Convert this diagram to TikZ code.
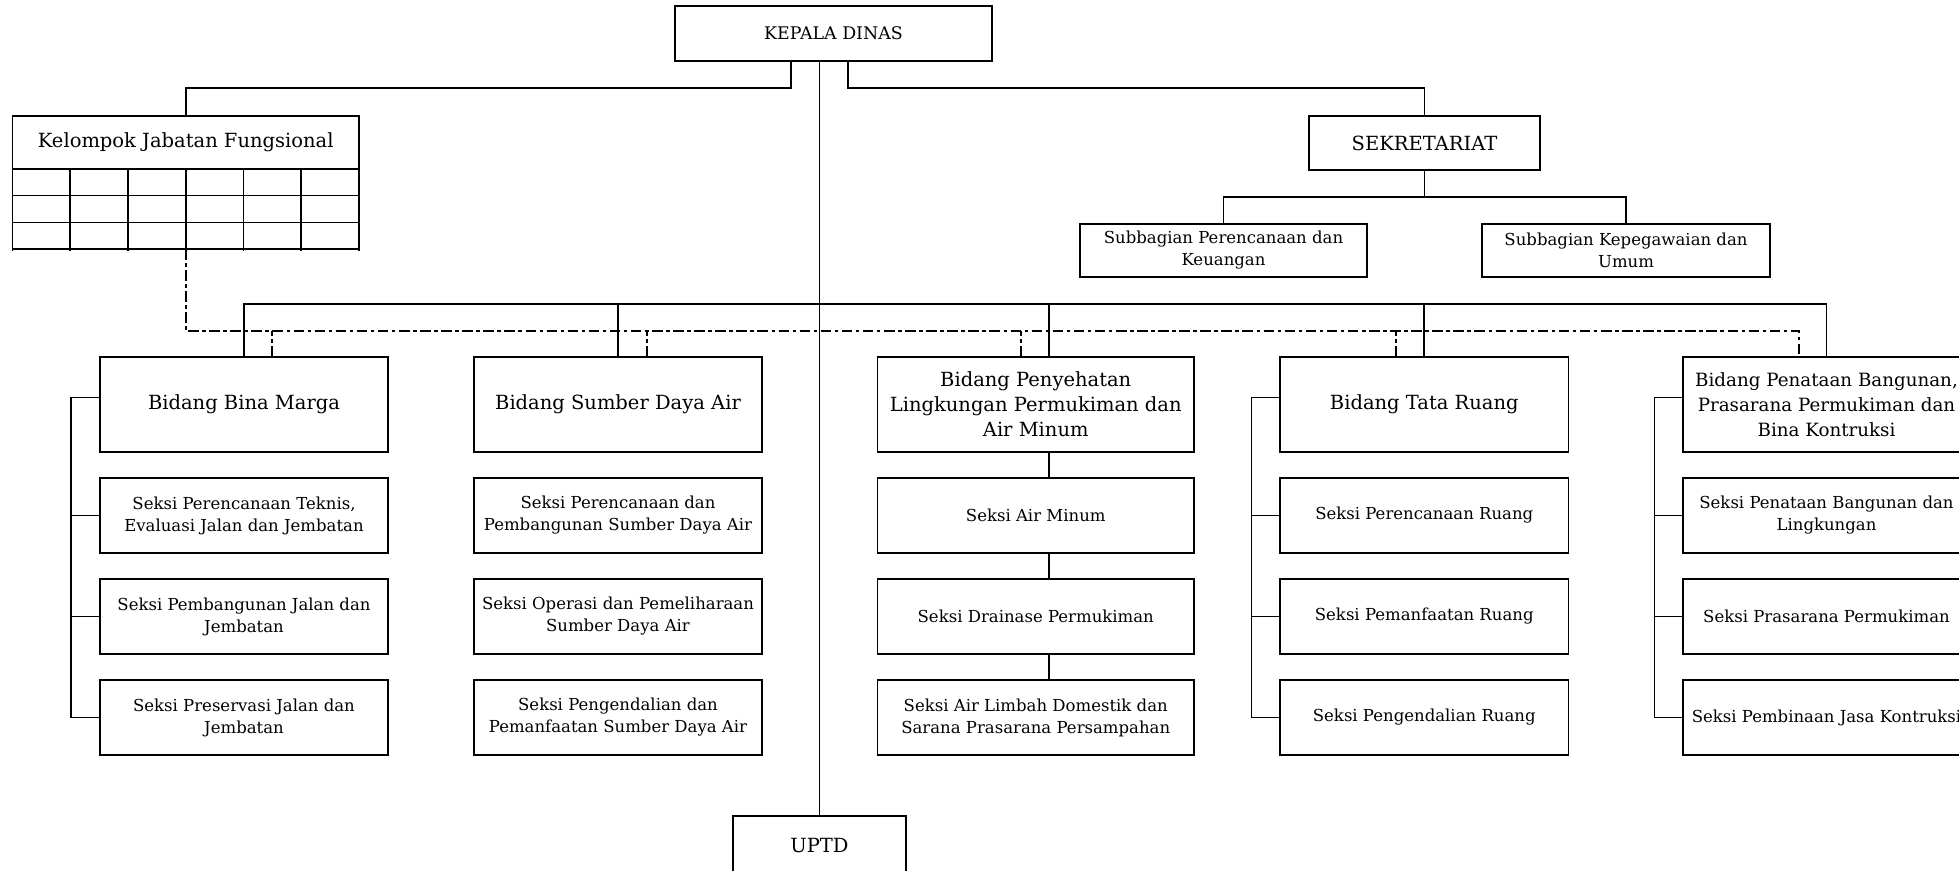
\documentclass[tikz,border=0pt]{standalone}
\usepackage{fontspec}
\setmainfont{DejaVu Serif}
\usetikzlibrary{positioning}

\begin{document}
\begin{tikzpicture}[
        box/.style={draw, line width=1pt, inner sep=1pt, outer sep=0pt, align=center},
        big/.style={font=\fontsize{11.1}{14.2}\selectfont},
        small/.style={font=\fontsize{9.4}{12.5}\selectfont},
        bidang/.style={box, big, minimum width=5.77cm, minimum height=1.9cm},
        seksi/.style={box, small, minimum width=5.77cm, minimum height=1.5cm},
        dd/.style={dash pattern=on 6pt off 2pt on 2pt off 2pt},
        node distance=0.52cm,
        line width=0.9pt
    ]
    \useasboundingbox (0,0) rectangle (39.18,-17.42);

    \node[box, font=\fontsize{9.9}{12}\selectfont, minimum width=6.34cm, minimum height=1.1cm] (kd) at (16.67,-0.67) {KEPALA DINAS};
    \node[box, big, minimum width=6.93cm, minimum height=1.06cm] (kf) at (3.715,-2.85) {Kelompok Jabatan Fungsional};
    \node[box, big, minimum width=4.62cm, minimum height=1.08cm] (sek) at (28.49,-2.86) {SEKRETARIAT};
    \node[seksi, minimum width=5.74cm, minimum height=1.06cm] (sb1) at (24.47,-5.01) {Subbagian Perencanaan dan\\Keuangan};
    \node[seksi, minimum width=5.76cm, minimum height=1.06cm] (sb2) at (32.52,-5.01) {Subbagian Kepegawaian dan\\Umum};
    \node[box, big, minimum width=3.46cm, minimum height=1.2cm] (uptd) at (16.39,-16.92) {UPTD};

    % bidang
    \node[bidang] (bm) at (4.88,-8.09) {Bidang Bina Marga};
    \node[bidang] (sda) at (12.36,-8.09) {Bidang Sumber Daya Air};
    \node[bidang, minimum width=6.33cm] (plp) at (20.715,-8.09) {Bidang Penyehatan\\Lingkungan Permukiman dan\\Air Minum};
    \node[bidang] (tr) at (28.485,-8.09) {Bidang Tata Ruang};
    \node[bidang, minimum width=5.74cm, font=\fontsize{10.4}{14.2}\selectfont] (pb) at (36.53,-8.09) {Bidang Penataan Bangunan,\\Prasarana Permukiman dan\\Bina Kontruksi};

    % seksi
    \node[seksi, below=of bm] (bm1) {Seksi Perencanaan Teknis,\\Evaluasi Jalan dan Jembatan};
    \node[seksi, below=of bm1] (bm2) {Seksi Pembangunan Jalan dan\\Jembatan};
    \node[seksi, below=of bm2] (bm3) {Seksi Preservasi Jalan dan\\Jembatan};

    \node[seksi, below=of sda] (sda1) {Seksi Perencanaan dan\\Pembangunan Sumber Daya Air};
    \node[seksi, below=of sda1] (sda2) {Seksi Operasi dan Pemeliharaan\\Sumber Daya Air};
    \node[seksi, below=of sda2] (sda3) {Seksi Pengendalian dan\\Pemanfaatan Sumber Daya Air};

    \node[seksi, minimum width=6.33cm, below=of plp] (plp1) {Seksi Air Minum};
    \node[seksi, minimum width=6.33cm, below=of plp1] (plp2) {Seksi Drainase Permukiman};
    \node[seksi, minimum width=6.33cm, below=of plp2] (plp3) {Seksi Air Limbah Domestik dan\\Sarana Prasarana Persampahan};

    \node[seksi, below=of tr] (tr1) {Seksi Perencanaan Ruang};
    \node[seksi, below=of tr1] (tr2) {Seksi Pemanfaatan Ruang};
    \node[seksi, below=of tr2] (tr3) {Seksi Pengendalian Ruang};

    \node[seksi, minimum width=5.74cm, below=of pb] (pb1) {Seksi Penataan Bangunan dan\\Lingkungan};
    \node[seksi, minimum width=5.74cm, below=of pb1] (pb2) {Seksi Prasarana Permukiman};
    \node[seksi, minimum width=5.74cm, below=of pb2] (pb3) {Seksi Pembinaan Jasa Kontruksi};

    % grid under kelompok
    \foreach \i in {0,...,6}
        \draw ([xshift=\i*1.155cm]kf.south west) -- ++(0,-1.64);
    \foreach \j in {1,2,3}
        \draw ([yshift=-\j*0.533cm]kf.south west) -- ++(6.93,0);

    % kepala dinas lines
    \coordinate (kc) at (kd.south -| uptd.north);
    \draw (kc) -- (uptd.north);
    \draw ([xshift=-0.57cm]kc) -- ++(0,-0.54) -| (kf.north);
    \draw ([xshift=0.57cm]kc) -- ++(0,-0.54) -| (sek.north);
    \draw (sek.south) -- ++(0,-0.54) -| (sb1.north);
    \draw (sek.south) -- ++(0,-0.54) -| (sb2.north);

    % bus to bidang
    \coordinate (bus) at (0,-6.08);
    \coordinate (pd) at ([xshift=0.27cm]plp.north);
    \draw (bm.north) |- (bus -| pb.north) -- (pb.north);
    \draw (sda.north) -- (sda.north |- bus);
    \draw (pd) -- (pd |- bus);
    \draw (tr.north) -- (tr.north |- bus);

    % garis koordinasi
    \coordinate (fb) at ([yshift=-1.6cm]kf.south);
    \coordinate (dl) at (0,-6.62);
    \coordinate (pbd) at ([xshift=-0.55cm]pb.north);
    \draw[dd] (fb) |- (dl -| pbd) -- (pbd);
    \foreach \n/\s in {bm/0.56, sda/0.58, plp/-0.3, tr/-0.57}
        \draw[dd] ([xshift=\s cm]\n.north) -- ++(0,0.52);

    % seksi lines
    \foreach \n in {bm, tr, pb} {
        \draw ([yshift=0.14cm]\n.west) -- ++(-0.57,0) |- (\n3.west);
        \draw (\n1.west) -- ++(-0.57,0);
        \draw (\n2.west) -- ++(-0.57,0);
    }
    \foreach \a/\b in {plp/plp1, plp1/plp2, plp2/plp3}
        \draw ([xshift=0.27cm]\a.south) -- ([xshift=0.27cm]\b.north);
\end{tikzpicture}
\end{document}
